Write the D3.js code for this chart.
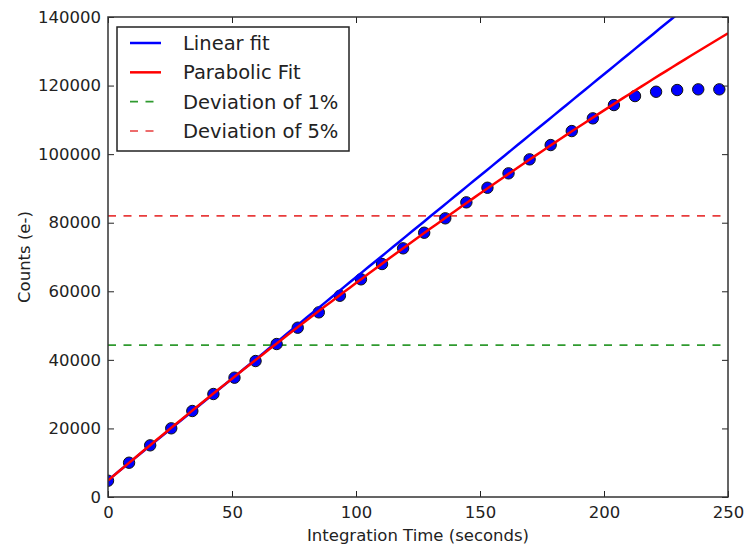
<!DOCTYPE html>
<html>
<head>
<meta charset="utf-8">
<script src="https://cdn.jsdelivr.net/npm/d3@7"></script>
<style>
  html, body { margin: 0; padding: 0; background: #fff; }
  svg { display: block; font-family: "DejaVu Sans", sans-serif; }
</style>
</head>
<body>
<svg id="chart" width="746" height="545"></svg>
<script>
// ---- data ----
const times = [0, 8.5, 17, 25.5, 34, 42.5, 51, 59.5, 68, 76.5, 85, 93.5, 102, 110.5, 119,
  127.5, 136, 144.5, 153, 161.5, 170, 178.5, 187, 195.5, 204, 212.5, 221, 229.5, 238, 246.5];
const counts = [4750, 10000, 15070, 20030, 25080, 30040, 34800, 39660, 44620, 49380, 53860,
  58700, 63490, 67950, 72530, 77080, 81280, 85940, 90200, 94400, 98480, 102650, 106730,
  110440, 114320, 116940, 118200, 118700, 118900, 118900];
const linearFitCoef = [4900, 592];            // c0 + c1*t
const parabolicFitCoef = [4800, 612.4, -0.3627]; // c0 + c1*t + c2*t^2
const deviationLevels = [44300, 82000];       // 1%, 5%
const xTicks = [0, 50, 100, 150, 200, 250];
const yTicks = [0, 20000, 40000, 60000, 80000, 100000, 120000, 140000];
const legendLabels = ["Linear fit", "Parabolic Fit", "Deviation of 1%", "Deviation of 5%"];

// ---- layout ----
const L = 108, R = 728, T = 17, B = 497;
const svg = d3.select("#chart");
const x = d3.scaleLinear().domain([0, 250]).range([L, R]);
const y = d3.scaleLinear().domain([0, 140000]).range([B, T]);

svg.append("defs").append("clipPath").attr("id", "clip")
  .append("rect").attr("x", L).attr("y", T).attr("width", R - L).attr("height", B - T);

const plot = svg.append("g").attr("clip-path", "url(#clip)");

// deviation lines
const devColors = ["#2f9a2f", "#e83c3c"];
deviationLevels.forEach((v, i) => {
  plot.append("line")
    .attr("x1", L).attr("x2", R).attr("y1", y(v)).attr("y2", y(v))
    .attr("stroke", devColors[i]).attr("stroke-width", 1.6)
    .attr("stroke-dasharray", "8,7.5");
});

// points
plot.selectAll("circle.pt").data(times.map((t, i) => [t, counts[i]])).enter()
  .append("circle").attr("class", "pt")
  .attr("cx", d => x(d[0])).attr("cy", d => y(d[1])).attr("r", 5.7)
  .attr("fill", "#0000ff").attr("stroke", "#111").attr("stroke-width", 1);

// fits
const tSamples = d3.range(0, 250.01, 2.5);
const lineGen = d3.line().x(d => x(d[0])).y(d => y(d[1]));
plot.append("path")
  .datum(tSamples.map(t => [t, linearFitCoef[0] + linearFitCoef[1] * t]))
  .attr("d", lineGen).attr("fill", "none").attr("stroke", "#0000ff").attr("stroke-width", 2.5);
plot.append("path")
  .datum(tSamples.map(t => [t, parabolicFitCoef[0] + parabolicFitCoef[1] * t + parabolicFitCoef[2] * t * t]))
  .attr("d", lineGen).attr("fill", "none").attr("stroke", "#ff0000").attr("stroke-width", 2.5);

// axes (inward ticks on all sides)
const tickLen = 6;
const axB = svg.append("g").attr("transform", `translate(0,${B})`)
  .call(d3.axisBottom(x).tickValues(xTicks).tickSize(-tickLen).tickPadding(9).tickFormat(d3.format("d")));
const axT = svg.append("g").attr("transform", `translate(0,${T})`)
  .call(d3.axisTop(x).tickValues(xTicks).tickSize(-tickLen).tickFormat(""));
const axL = svg.append("g").attr("transform", `translate(${L},0)`)
  .call(d3.axisLeft(y).tickValues(yTicks).tickSize(-tickLen).tickPadding(7).tickFormat(d3.format("d")));
const axR = svg.append("g").attr("transform", `translate(${R},0)`)
  .call(d3.axisRight(y).tickValues(yTicks).tickSize(-tickLen).tickFormat(""));
[axB, axT, axL, axR].forEach(a => {
  a.select(".domain").remove();
  a.selectAll(".tick line").attr("stroke", "#222").attr("stroke-width", 1);
  a.selectAll("text").attr("font-size", 16.5).attr("fill", "#222")
    .attr("font-family", "DejaVu Sans, sans-serif");
});
axB.selectAll("text").attr("dy", "0.71em");

// frame
svg.append("rect").attr("x", L).attr("y", T).attr("width", R - L).attr("height", B - T)
  .attr("fill", "none").attr("stroke", "#333").attr("stroke-width", 1.5);

// axis titles
svg.append("text").attr("x", (L + R) / 2).attr("y", 541)
  .attr("text-anchor", "middle").attr("font-size", 16.5).attr("fill", "#222")
  .text("Integration Time (seconds)");
svg.append("text").attr("transform", `translate(30,${(T + B) / 2}) rotate(-90)`)
  .attr("text-anchor", "middle").attr("font-size", 16.5).attr("fill", "#222")
  .text("Counts (e-)");

// legend
const leg = svg.append("g");
leg.append("rect").attr("x", 117).attr("y", 27).attr("width", 232).attr("height", 124)
  .attr("fill", "#fff").attr("stroke", "#222").attr("stroke-width", 1.5);
const legStyles = [
  { color: "#0000ff", dash: null, w: 2.5 },
  { color: "#ff0000", dash: null, w: 2.5 },
  { color: devColors[0], dash: "8,7.5", w: 1.6 },
  { color: devColors[1], dash: "8,7.5", w: 1.6 }
];
const rowY = d3.scalePoint().domain(legendLabels).range([43, 131]);
legendLabels.forEach((lab, i) => {
  const yy = rowY(lab);
  leg.append("line").attr("x1", 130).attr("x2", 161).attr("y1", yy).attr("y2", yy)
    .attr("stroke", legStyles[i].color).attr("stroke-width", legStyles[i].w)
    .attr("stroke-dasharray", legStyles[i].dash);
  leg.append("text").attr("x", 183).attr("y", yy).attr("dy", "0.36em")
    .attr("font-size", 19.5).attr("fill", "#222").text(lab);
});
</script>
</body>
</html>
